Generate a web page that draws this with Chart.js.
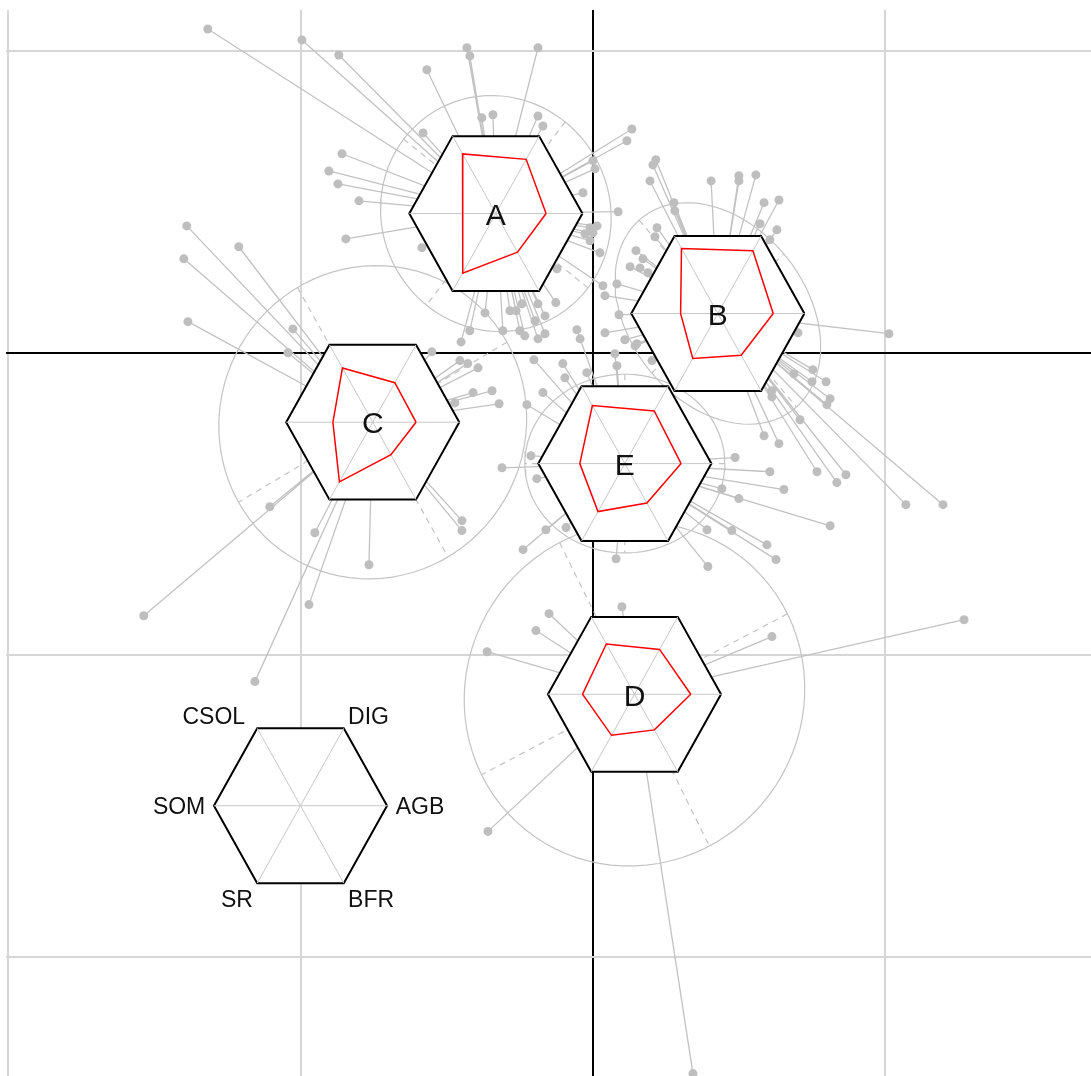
<!DOCTYPE html>
<html lang="en">
  <head>
    <meta charset="UTF-8" />
    <title>Cluster stars</title>
    <script src="https://cdn.jsdelivr.net/npm/chart.js@4.4.1/dist/chart.umd.min.js"></script>
    <style>
      body { margin: 0; background: #fff; }
    </style>
  </head>
  <body>
    <canvas id="myChart" width="1091" height="1076"></canvas>
    <script>
      /*** data ***/
      // star variables, counter-clockwise starting on the right
      const varNames = ["AGB", "DIG", "CSOL", "SOM", "SR", "BFR"];
      const groups = ["A", "B", "C", "D", "E"];
      const centerX = [-0.332, 0.427, -0.753, 0.142, 0.109];
      const centerY = [0.461, 0.13, -0.23, -1.131, -0.367];

      // star values (share of the hexagon radius), same order as varNames
      const starA = [0.58, 0.7, 0.77, 0.38, 0.77, 0.5];
      const starB = [0.64, 0.81, 0.84, 0.43, 0.58, 0.54];
      const starC = [0.5, 0.51, 0.7, 0.46, 0.77, 0.42];
      const starD = [0.65, 0.58, 0.65, 0.6, 0.53, 0.46];
      const starE = [0.65, 0.68, 0.75, 0.52, 0.62, 0.51];

      // ellipses: semi axis a, semi axis b, angle of a (degrees)
      const ellipseA = [0.4, 0.385, -38];
      const ellipseB = [0.41, 0.3, 131];
      const ellipseC = [0.53, 0.515, 30];
      const ellipseD = [0.587, 0.564, 27];
      const ellipseE = [0.342, 0.296, 0];

      const starRadius = 0.296;
      const keyX = -1.0;
      const keyY = -1.5;

      const xTicks = [-2, -1, 0, 1];
      const yTicks = [-2, -1, 0, 1];
      const xRange = [-2.007, 1.703];
      const yRange = [-2.395, 1.135];

      // observations, [x, y]
      const pointsA = [
        [-1.317, 1.072], [-0.995, 1.036], [-0.869, 0.986], [-0.858, 0.659], [-0.903, 0.602], [-0.872, 0.559],
        [-0.8, 0.503], [-0.845, 0.377], [-0.431, 1.01], [-0.421, 0.983], [-0.188, 1.01], [-0.568, 0.937],
        [-0.38, 0.778], [-0.342, 0.788], [-0.188, 0.784], [-0.171, 0.751], [-0.581, 0.728], [0.133, 0.741],
        [0.116, 0.702], [-0.585, 0.348], [0.0, 0.636], [0.007, 0.609], [-0.034, 0.53], [0.086, 0.467],
        [-0.01, 0.414], [0.014, 0.42], [-0.027, 0.394], [0.0, 0.397], [0.024, 0.331], [-0.01, 0.371],
        [-0.123, 0.278], [-0.127, 0.166], [-0.369, 0.132], [-0.421, 0.073], [-0.451, 0.036], [-0.308, 0.073],
        [-0.284, 0.139], [-0.263, 0.139], [-0.243, 0.162], [-0.188, 0.162], [-0.198, 0.106], [-0.164, 0.122],
        [-0.25, 0.073], [-0.233, 0.056], [-0.188, 0.046], [-0.164, 0.063], [0.034, 0.222],
      ];
      const pointsB = [
        [0.215, 0.639], [0.205, 0.622], [0.195, 0.569], [0.404, 0.569], [0.499, 0.586], [0.499, 0.569],
        [0.557, 0.589], [0.585, 0.497], [0.636, 0.506], [0.571, 0.427], [0.629, 0.407], [0.605, 0.374],
        [0.277, 0.497], [0.28, 0.47], [0.219, 0.414], [0.212, 0.384], [0.147, 0.338], [0.171, 0.311],
        [0.127, 0.285], [0.161, 0.281], [0.188, 0.265], [0.082, 0.228], [0.041, 0.189], [0.089, 0.126],
        [0.041, 0.066], [0.109, 0.043], [0.15, 0.03], [1.012, 0.063], [0.701, 0.066], [0.752, -0.056],
        [0.797, -0.096], [0.749, -0.096], [0.687, -0.07], [0.811, -0.152], [0.8, -0.172], [0.612, -0.126],
        [0.612, -0.146], [0.708, -0.222], [0.585, -0.275], [0.636, -0.301], [0.766, -0.394], [0.834, -0.43],
        [0.865, -0.404], [1.07, -0.503], [1.197, -0.503], [0.202, -0.026], [0.144, 0.023],
      ];
      const pointsC = [
        [-1.389, 0.42], [-1.211, 0.351], [-1.399, 0.311], [-1.385, 0.103], [-1.026, 0.079], [-1.043, 0.0],
        [-1.105, -0.51], [-1.536, -0.871], [-0.951, -0.596], [-0.971, -0.834], [-1.156, -1.089], [-0.766, -0.702],
        [-0.448, -0.556], [-0.448, -0.589], [-0.551, 0.003], [-0.455, -0.026], [-0.428, -0.036], [-0.393, -0.05],
        [-0.41, -0.132], [-0.345, -0.126], [-0.321, -0.169], [-0.472, -0.166],
      ];
      const pointsD = [
        [0.099, -0.841], [-0.15, -0.864], [-0.195, -0.92], [-0.362, -0.99],
        [0.612, -0.94], [1.269, -0.884], [-0.359, -1.585], [0.342, -2.387],
      ];
      const pointsE = [
        [-0.202, -0.023], [-0.103, -0.036], [-0.021, -0.066], [-0.096, -0.083], [-0.171, -0.132], [-0.226, -0.172],
        [-0.212, -0.341], [-0.311, -0.381], [-0.192, -0.417], [-0.161, -0.586], [-0.092, -0.579], [-0.239, -0.652],
        [0.079, -0.682], [0.393, -0.708], [0.39, -0.586], [0.486, -0.347], [0.605, -0.394], [0.653, -0.453],
        [0.441, -0.45], [0.499, -0.483], [0.811, -0.573], [0.475, -0.589], [0.595, -0.636], [0.626, -0.685],
        [0.075, -0.003], [0.082, -0.043], [-0.055, 0.076], [-0.044, 0.046],
      ];

      const pointSets = [pointsA, pointsB, pointsC, pointsD, pointsE];
      const starSets = [starA, starB, starC, starD, starE];
      const ellipseSets = [ellipseA, ellipseB, ellipseC, ellipseD, ellipseE];

      /*** build datasets ***/
      const gap = { x: null, y: null };
      const gray = "#bebebe";

      function vertex(cx, cy, k, v) {
        const a = (k * Math.PI) / 3;
        return { x: cx + v * starRadius * Math.cos(a), y: cy + v * starRadius * Math.sin(a) };
      }

      function hexDatasets(cx, cy) {
        const ring = [0, 1, 2, 3, 4, 5, 0].map((k) => vertex(cx, cy, k, 1));
        const spokes = [];
        for (let k = 0; k < 3; k++) {
          spokes.push(vertex(cx, cy, k, 1), vertex(cx, cy, k + 3, 1), gap);
        }
        return [
          {
            data: ring, showLine: true, pointRadius: 0, borderColor: "#000", borderWidth: 2,
            backgroundColor: "#fff", fill: "shape", order: 5,
          },
          { data: spokes, showLine: true, pointRadius: 0, borderColor: "#c8c8c8", borderWidth: 1, order: 4 },
        ];
      }

      const datasets = [];
      groups.forEach((g, i) => {
        const cx = centerX[i];
        const cy = centerY[i];
        const [ea, eb, eang] = ellipseSets[i];
        const phi = (eang * Math.PI) / 180;

        // ellipse outline
        const ell = [];
        for (let t = 0; t <= 360; t += 4) {
          const r = (t * Math.PI) / 180;
          ell.push({
            x: cx + ea * Math.cos(r) * Math.cos(phi) - eb * Math.sin(r) * Math.sin(phi),
            y: cy + ea * Math.cos(r) * Math.sin(phi) + eb * Math.sin(r) * Math.cos(phi),
          });
        }
        datasets.push({ data: ell, showLine: true, pointRadius: 0, borderColor: "#c4c4c4", borderWidth: 1.2, order: 9 });

        // ellipse axes, dashed
        const axes = [
          { x: cx + ea * Math.cos(phi), y: cy + ea * Math.sin(phi) },
          { x: cx - ea * Math.cos(phi), y: cy - ea * Math.sin(phi) },
          gap,
          { x: cx - eb * Math.sin(phi), y: cy + eb * Math.cos(phi) },
          { x: cx + eb * Math.sin(phi), y: cy - eb * Math.cos(phi) },
        ];
        datasets.push({
          data: axes, showLine: true, pointRadius: 0, borderColor: "#c4c4c4", borderWidth: 1.2,
          borderDash: [6, 5], order: 9,
        });

        // lines from the centre to each observation
        const seg = [];
        pointSets[i].forEach(([px, py]) => seg.push({ x: cx, y: cy }, { x: px, y: py }, gap));
        datasets.push({ data: seg, showLine: true, pointRadius: 0, borderColor: "#c2c2c2", borderWidth: 1.3, order: 8 });

        // observations
        datasets.push({
          data: pointSets[i].map(([px, py]) => ({ x: px, y: py })),
          pointRadius: 4.5, pointBackgroundColor: gray, pointBorderWidth: 0, order: 7,
        });

        // star hexagon and profile
        datasets.push(...hexDatasets(cx, cy));
        const prof = [0, 1, 2, 3, 4, 5, 0].map((k) => vertex(cx, cy, k, starSets[i][k]));
        datasets.push({ data: prof, showLine: true, pointRadius: 0, borderColor: "#ff0000", borderWidth: 1.5, order: 3 });
      });

      // key hexagon
      datasets.push(...hexDatasets(keyX, keyY));

      /*** text labels ***/
      const labelPlugin = {
        id: "starLabels",
        afterDatasetsDraw(chart) {
          const { ctx } = chart;
          const xs = chart.scales.x;
          const ys = chart.scales.y;
          ctx.save();
          ctx.fillStyle = "#111";
          ctx.font = "30px 'Liberation Sans', Arial, sans-serif";
          ctx.textAlign = "center";
          ctx.textBaseline = "middle";
          groups.forEach((g, i) => {
            ctx.fillText(g, xs.getPixelForValue(centerX[i]), ys.getPixelForValue(centerY[i]) + 3);
          });

          ctx.font = "23px 'Liberation Sans', Arial, sans-serif";
          varNames.forEach((name, k) => {
            const a = (k * Math.PI) / 3;
            const c = Math.cos(a);
            const s = Math.sin(a);
            // upper-left label sits a bit further out in the original key
            const push = c < -0.1 && s > 0.1 ? 0.09 : 0;
            const px = xs.getPixelForValue(keyX + (1.1 * c - push) * starRadius);
            const py = ys.getPixelForValue(keyY + 1.1 * starRadius * s);
            ctx.textAlign = c > 0.1 ? "left" : c < -0.1 ? "right" : "center";
            ctx.textBaseline = s > 0.1 ? "alphabetic" : s < -0.1 ? "top" : "middle";
            ctx.fillText(name, px, py + (s > 0.1 ? 3 : s < -0.1 ? -2 : 2));
          });
          ctx.restore();
        },
      };

      /*** chart ***/
      const gridColor = (c) => (c.tick && c.tick.value === 0 ? "#000" : "#d6d6d6");
      const ctx = document.getElementById("myChart").getContext("2d");
      const chart = new Chart(ctx, {
        type: "scatter",
        data: { datasets },
        options: {
          responsive: false,
          animation: false,
          events: [],
          devicePixelRatio: 1,
          layout: { autoPadding: false, padding: { left: 6, top: 10, right: 0, bottom: 0 } },
          plugins: { legend: { display: false }, tooltip: { enabled: false } },
          scales: {
            x: {
              type: "linear",
              min: xRange[0],
              max: xRange[1],
              afterBuildTicks: (axis) => { axis.ticks = xTicks.map((v) => ({ value: v })); },
              ticks: { display: false },
              border: { display: false },
              grid: { color: gridColor, lineWidth: 2, drawTicks: false },
            },
            y: {
              type: "linear",
              min: yRange[0],
              max: yRange[1],
              afterBuildTicks: (axis) => { axis.ticks = yTicks.map((v) => ({ value: v })); },
              ticks: { display: false },
              border: { display: false },
              grid: { color: gridColor, lineWidth: 2, drawTicks: false },
            },
          },
        },
        plugins: [labelPlugin],
      });
    </script>
  </body>
</html>
